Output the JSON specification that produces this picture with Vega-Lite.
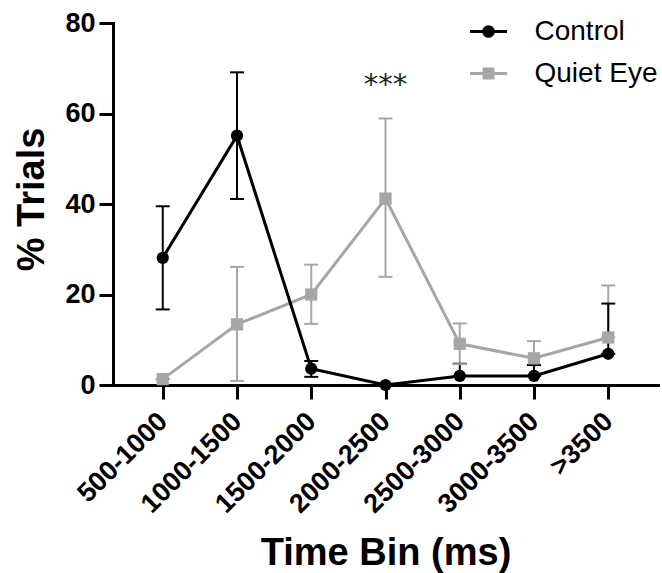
{
  "$schema": "https://vega.github.io/schema/vega-lite/v6.json",
  "width": 545,
  "height": 362,
  "autosize": {"type": "none"},
  "padding": {"left": 113, "top": 23, "right": 4, "bottom": 188},
  "background": "white",
  "config": {
    "view": {"stroke": null},
    "font": "Liberation Sans",
    "axisX": {
      "domainWidth": 3, "domainColor": "#000", "domainCap": "square",
      "tickWidth": 3, "tickColor": "#000", "tickSize": 14,
      "labelFontSize": 27, "labelFontWeight": "bold", "labelColor": "#000",
      "labelAngle": -45, "labelAlign": "right", "labelBaseline": "middle", "labelPadding": 18,
      "titleFontSize": 38, "titleFontWeight": "bold", "titleColor": "#000",
      "titleBaseline": "alphabetic", "titleY": 179,
      "grid": false
    },
    "axisY": {
      "domainWidth": 3, "domainColor": "#000", "domainCap": "square",
      "tickWidth": 3, "tickColor": "#000", "tickSize": 14, "tickCount": 4,
      "labelFontSize": 27, "labelFontWeight": "bold", "labelColor": "#000", "labelPadding": 4,
      "titleFontSize": 38, "titleFontWeight": "bold", "titleColor": "#000",
      "titleBaseline": "alphabetic", "titleX": -70, "titleY": 176,
      "grid": false
    }
  },
  "data": {
    "values": [
      {"series": "Quiet Eye", "bin": "500-1000", "value": 1.3, "lo": 1.3, "hi": 1.3},
      {"series": "Quiet Eye", "bin": "1000-1500", "value": 13.4, "lo": 0.9, "hi": 26.1},
      {"series": "Quiet Eye", "bin": "1500-2000", "value": 20.0, "lo": 13.5, "hi": 26.6},
      {"series": "Quiet Eye", "bin": "2000-2500", "value": 41.2, "lo": 23.9, "hi": 58.9},
      {"series": "Quiet Eye", "bin": "2500-3000", "value": 9.1, "lo": 4.6, "hi": 13.6},
      {"series": "Quiet Eye", "bin": "3000-3500", "value": 5.9, "lo": 2.1, "hi": 9.7},
      {"series": "Quiet Eye", "bin": ">3500", "value": 10.5, "lo": 10.5, "hi": 22.0},
      {"series": "Control", "bin": "500-1000", "value": 28.1, "lo": 16.7, "hi": 39.5},
      {"series": "Control", "bin": "1000-1500", "value": 55.1, "lo": 41.1, "hi": 69.1},
      {"series": "Control", "bin": "1500-2000", "value": 3.6, "lo": 1.8, "hi": 5.3},
      {"series": "Control", "bin": "2000-2500", "value": 0, "lo": 0, "hi": 0},
      {"series": "Control", "bin": "2500-3000", "value": 2.0, "lo": 2.0, "hi": 4.7},
      {"series": "Control", "bin": "3000-3500", "value": 2.0, "lo": 2.0, "hi": 4.4},
      {"series": "Control", "bin": ">3500", "value": 6.9, "lo": 6.9, "hi": 18.0}
    ]
  },
  "encoding": {
    "x": {
      "field": "bin", "type": "nominal", "title": "Time Bin (ms)",
      "sort": ["500-1000", "1000-1500", "1500-2000", "2000-2500", "2500-3000", "3000-3500", ">3500"],
      "scale": {"type": "point", "padding": 0.67}
    },
    "color": {
      "field": "series", "type": "nominal",
      "scale": {"domain": ["Control", "Quiet Eye"], "range": ["#000000", "#a6a6a6"]},
      "legend": {
        "orient": "none", "legendX": 355.5, "legendY": -11.5, "title": null, "padding": 0,
        "labelFontSize": 28, "labelFont": "Liberation Sans", "labelColor": "#000",
        "labelOffset": 26, "rowPadding": 8, "symbolSize": 1369, "symbolStrokeWidth": 3,
        "encode": {
          "symbols": {
            "update": {
              "shape": {"signal": "datum.value === 'Control' ? 'M-1,0H1M0.26,0A0.26,0.26 0 1,1 -0.26,0A0.26,0.26 0 1,1 0.26,0Z' : 'M-1,0H1M-0.24,-0.24H0.24V0.24H-0.24Z'"},
              "strokeWidth": {"value": 3},
              "opacity": {"value": 1}
            }
          }
        }
      }
    }
  },
  "layer": [
    {
      "mark": {"type": "rule", "strokeWidth": 2},
      "encoding": {
        "y": {"field": "lo", "type": "quantitative", "title": "% Trials", "scale": {"domain": [0, 80]}},
        "y2": {"field": "hi"}
      }
    },
    {
      "mark": {"type": "tick", "thickness": 2, "size": 14, "opacity": 1},
      "encoding": {
        "y": {"field": "hi", "type": "quantitative", "title": "% Trials", "scale": {"domain": [0, 80]}}
      }
    },
    {
      "mark": {"type": "tick", "thickness": 2, "size": 14, "opacity": 1},
      "encoding": {
        "y": {"field": "lo", "type": "quantitative", "title": "% Trials", "scale": {"domain": [0, 80]}}
      }
    },
    {
      "mark": {"type": "line", "strokeWidth": 3},
      "encoding": {
        "y": {"field": "value", "type": "quantitative", "title": "% Trials", "scale": {"domain": [0, 80]}}
      }
    },
    {
      "transform": [{"filter": "datum.series === 'Quiet Eye'"}],
      "mark": {"type": "point", "shape": "square", "filled": true, "size": 150, "opacity": 1},
      "encoding": {
        "y": {"field": "value", "type": "quantitative", "title": "% Trials", "scale": {"domain": [0, 80]}}
      }
    },
    {
      "transform": [{"filter": "datum.series === 'Control'"}],
      "mark": {"type": "point", "shape": "circle", "filled": true, "size": 150, "opacity": 1},
      "encoding": {
        "y": {"field": "value", "type": "quantitative", "title": "% Trials", "scale": {"domain": [0, 80]}}
      }
    },
    {
      "data": {"values": [{"bin": "2000-2500", "y": 64.2, "label": "***"}]},
      "mark": {"type": "text", "font": "DejaVu Sans", "fontSize": 29, "baseline": "alphabetic", "align": "center"},
      "encoding": {
        "y": {"field": "y", "type": "quantitative", "title": "% Trials", "scale": {"domain": [0, 80]}},
        "text": {"field": "label"},
        "color": {"value": "#222222"}
      }
    }
  ]
}
